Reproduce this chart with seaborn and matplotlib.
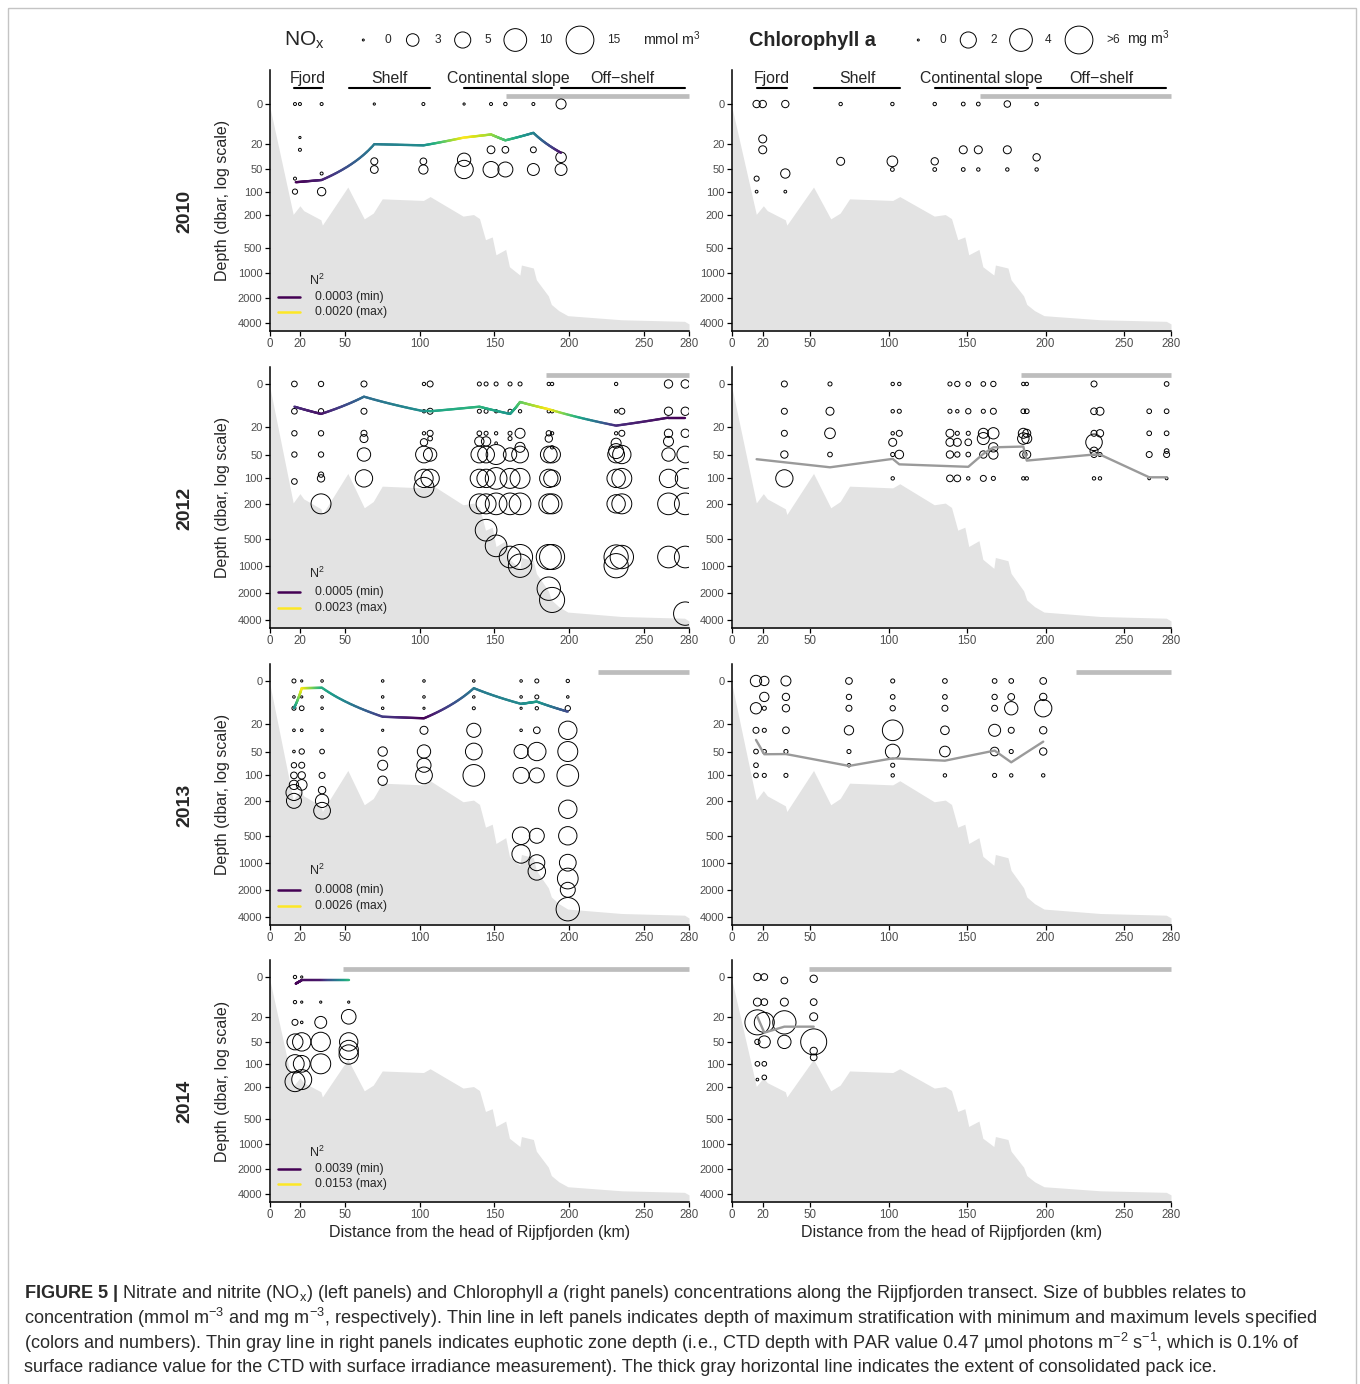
import numpy as np
import pandas as pd
import matplotlib
matplotlib.use("Agg")
import matplotlib.pyplot as plt
import seaborn as sns
from matplotlib.collections import LineCollection
from matplotlib.patches import Rectangle

# ------------------------------------------------------------------ data
distance_ticks = [0, 20, 50, 100, 150, 200, 250, 280]
depth_ticks = [0, 20, 50, 100, 200, 500, 1000, 2000, 4000]
years = ["2010", "2012", "2013", "2014"]

bathy_km = [0, 15.5, 20, 22.5, 34, 35, 52, 63, 69, 75, 102.5, 107, 129, 136, 140,
            144, 148.5, 151, 157.5, 160, 167, 168, 176, 178, 186, 188, 193, 199,
            235, 277, 280]
bathy_dep = [1, 195, 152, 175, 228, 265, 87, 222, 188, 124, 130, 116, 205, 196, 220,
             400, 370, 610, 525, 850, 1070, 810, 880, 1220, 1900, 2400, 2850, 3270,
             3660, 3820, 4100]

region_names = ["Fjord", "Shelf", "Continental slope", "Off\u2212shelf"]
region_start = [16, 52.5, 129.5, 194.5]
region_end = [35, 107, 188.5, 277]

ice_start = [158, 184.5, 219.5, 49]
ice_end = [280, 280, 280, 280]

# --- NOx bubbles (station distance, depths per station, mmol m-3 per depth)
nox10_stn = [16.7, 20, 34.5, 69.7, 102.5, 129.7, 147.7, 157.3, 176, 194.5]
nox10_dep = [[0, 67, 100], [0, 15, 25], [0, 57, 100], [0, 38, 50], [0, 38, 50],
             [0, 36, 50], [0, 25, 50], [0, 25, 50], [0, 25, 50], [0, 33, 50]]
nox10_val = [[0.1, 0.1, 0.45], [0.1, 0.02, 0.1], [0.1, 0.1, 1.3], [0.02, 0.9, 1.1],
             [0.1, 0.8, 1.6], [0.02, 3.4, 6.5], [0.1, 1.1, 4.9], [0.15, 0.8, 4.3],
             [0.1, 0.6, 2.7], [1.9, 2.1, 2.7]]

nox12_stn = [16.3, 34.1, 62.8, 102.9, 107.0, 139.9, 144.4, 151.1, 160.4, 167.1,
             186.3, 188.5, 231.3, 235.1, 266.3, 277.5]
nox12_dep = [[0, 10, 25, 50, 109],
             [0, 10, 25, 50, 90, 100, 200],
             [0, 10, 25, 30, 50, 100],
             [0, 10, 25, 34, 50, 100, 128],
             [0, 10, 25, 30, 50, 100],
             [0, 10, 25, 33, 50, 100, 200],
             [0, 10, 25, 33, 50, 100, 200, 400],
             [0, 10, 25, 35, 50, 100, 200, 600],
             [0, 10, 25, 30, 50, 100, 200, 800],
             [0, 10, 25, 40, 50, 100, 200, 800, 1000],
             [0, 10, 25, 30, 50, 100, 200, 800, 1800],
             [0, 10, 25, 40, 50, 100, 200, 800, 2400],
             [0, 10, 25, 35, 45, 50, 100, 200, 800, 1000],
             [10, 25, 50, 100, 200, 800],
             [0, 10, 25, 33, 50, 100, 200, 800],
             [0, 10, 25, 50, 100, 200, 800, 3400]]
nox12_val = [[0.55, 0.55, 0.48, 0.48, 0.55],
             [0.48, 0.48, 0.48, 0.48, 0.48, 0.98, 7.7],
             [0.63, 0.63, 0.63, 1.18, 3.4, 5.8],
             [0.14, 0.14, 0.14, 0.98, 5.4, 6.5, 7.7],
             [0.63, 0.63, 0.63, 0.35, 3.4, 6.5],
             [0.24, 0.24, 0.35, 1.63, 5.4, 6.5, 7.7],
             [0.24, 0.24, 0.24, 1.63, 5.4, 6.5, 7.7, 9.1],
             [0.24, 0.14, 0.14, 0.06, 7.7, 9.1, 9.1, 9.1],
             [0.24, 0.24, 0.24, 0.24, 3.4, 7.7, 9.1, 9.1],
             [0.24, 0.14, 1.88, 1.88, 5.4, 7.7, 9.1, 12.2, 10.6],
             [0.14, 0.14, 0.48, 0.98, 5.4, 6.5, 7.7, 12.2, 10.6],
             [0.14, 0.14, 0.14, 0.14, 5.4, 5.4, 7.7, 12.2, 12.2],
             [0.14, 0.14, 0.14, 1.88, 4.3, 5.4, 6.5, 6.5, 11.4, 11.4],
             [0.63, 0.63, 6.5, 7.7, 7.7, 10.6],
             [1.28, 1.28, 1.28, 1.88, 3.4, 6.5, 9.1, 9.1],
             [1.28, 1.28, 1.28, 5.4, 7.7, 9.1, 9.1, 10.6]]

nox13_stn = [16, 21.2, 34.8, 75.3, 102.9, 136.2, 167.8, 178.3, 199]
nox13_dep = [[0, 5, 10, 25, 50, 75, 100, 130, 160, 200],
             [0, 5, 10, 25, 50, 75, 100, 130],
             [0, 5, 10, 25, 50, 100, 150, 200, 260],
             [0, 5, 10, 25, 50, 75, 116],
             [0, 5, 10, 25, 50, 75, 100],
             [0, 5, 10, 25, 50, 100],
             [0, 5, 10, 25, 50, 100, 500, 800],
             [0, 5, 10, 25, 50, 100, 500, 1000, 1250],
             [0, 5, 10, 25, 50, 100, 250, 500, 1000, 1500, 2000, 3280]]
nox13_val = [[0.24, 0.05, 0.24, 0.06, 0.06, 0.48, 0.79, 1.63, 4.9, 4.3],
             [0.02, 0.02, 0.35, 0.06, 0.48, 0.63, 0.98, 2.15],
             [0.05, 0.05, 0.05, 0.05, 0.35, 0.63, 1.0, 3.4, 5.4],
             [0.05, 0.05, 0.05, 0.02, 1.63, 1.88, 1.63],
             [0.05, 0.05, 0.02, 1.18, 3.4, 3.8, 5.4],
             [0.05, 0.05, 0.1, 3.8, 5.4, 9.1],
             [0.05, 0.05, 0.02, 0.05, 3.8, 4.9, 5.9, 6.5],
             [0.24, 0.24, 0.14, 0.79, 6.5, 4.3, 4.3, 4.9, 5.9],
             [0.14, 0.05, 0.48, 6.5, 7.7, 9.1, 6.5, 6.5, 5.4, 8.3, 4.3, 10.6]]

nox14_stn = [16.7, 21.2, 33.9, 52.6]
nox14_dep = [[0, 10, 25, 50, 100, 170], [0, 10, 25, 50, 100, 160],
             [10, 25, 50, 100], [10, 20, 50, 65, 75]]
nox14_val = [[0.14, 0.14, 0.63, 4.9, 6.5, 7.7], [0.02, 0.02, 0.05, 6.5, 5.4, 7.7],
             [0.02, 2.7, 7.2, 7.7], [0.02, 4.1, 6.5, 7.2, 7.2]]

# --- Chlorophyll a bubbles (mg m-3)
chl10_stn = [15.7, 19.6, 34, 69.3, 102.3, 129.3, 147.5, 157.1, 175.6, 194.3]
chl10_dep = [[0, 67, 100], [0, 16, 25], [0, 57, 100], [0, 38], [0, 38, 50],
             [0, 38, 50], [0, 25, 50], [0, 25, 50], [0, 25, 50], [0, 33, 50]]
chl10_val = [[0.39, 0.17, 0.03], [0.39, 0.47, 0.47], [0.39, 0.65, 0.03], [0.06, 0.47],
             [0.06, 0.86, 0.08], [0.06, 0.39, 0.08], [0.08, 0.47, 0.08],
             [0.08, 0.47, 0.06], [0.3, 0.47, 0.06], [0.06, 0.39, 0.06]]

chl12_stn = [33.4, 62.5, 102.5, 106.7, 139, 143.7, 150.7, 160.3, 166.7, 185.8, 188,
             230.9, 234.7, 266.1, 277.2]
chl12_dep = [[0, 10, 25, 50, 100], [0, 10, 25, 50], [0, 10, 25, 34, 50, 100],
             [0, 10, 25, 50], [0, 10, 25, 34, 50, 100], [0, 10, 25, 34, 50, 100],
             [0, 10, 25, 34, 50, 100], [0, 10, 25, 30, 50, 100],
             [0, 10, 25, 40, 50, 100], [0, 10, 25, 30, 50, 100],
             [0, 10, 25, 30, 50, 100], [0, 10, 25, 34, 45, 50, 100],
             [10, 25, 50, 100], [10, 25, 50, 100], [0, 10, 25, 45, 50, 100]]
chl12_val = [[0.25, 0.25, 0.25, 0.39, 2.3], [0.1, 0.47, 0.86, 0.14],
             [0.06, 0.06, 0.06, 0.47, 0.1, 0.06], [0.06, 0.1, 0.25, 0.55],
             [0.1, 0.1, 0.47, 0.47, 0.39, 0.32], [0.19, 0.06, 0.1, 0.47, 0.19, 0.32],
             [0.14, 0.19, 0.1, 0.32, 0.14, 0.06], [0.14, 0.1, 0.75, 1.1, 0.39, 0.25],
             [0.19, 0.25, 0.97, 0.65, 0.65, 0.1], [0.06, 0.14, 0.75, 1.0, 0.39, 0.06],
             [0.06, 0.14, 0.47, 0.75, 0.47, 0.06],
             [0.25, 0.32, 0.25, 2.1, 0.47, 0.25, 0.06],
             [0.47, 0.39, 0.1, 0.06], [0.14, 0.14, 0.25, 0.03],
             [0.14, 0.14, 0.14, 0.14, 0.25, 0.03]]

chl13_stn = [15.3, 20.6, 34.4, 74.6, 102.5, 135.8, 167.5, 178.1, 198.5]
chl13_dep = [[0, 10, 25, 50, 75, 100], [0, 5, 10, 25, 50, 100], [0, 5, 10, 25, 50, 100],
             [0, 5, 10, 25, 50, 75], [0, 5, 10, 25, 50, 75, 100], [0, 5, 10, 25, 50, 100],
             [0, 5, 10, 25, 50, 100], [0, 5, 10, 25, 50, 100], [0, 5, 10, 25, 50, 100]]
chl13_val = [[0.97, 0.97, 0.25, 0.14, 0.14, 0.14], [0.65, 0.65, 0.1, 0.1, 0.1, 0.1],
             [0.75, 0.39, 0.39, 0.32, 0.1, 0.1], [0.32, 0.19, 0.25, 0.65, 0.1, 0.06],
             [0.1, 0.14, 0.19, 3.3, 1.65, 0.1, 0.06], [0.14, 0.14, 0.25, 0.55, 0.86, 0.06],
             [0.14, 0.19, 0.25, 1.1, 0.55, 0.1], [0.14, 0.32, 1.36, 0.25, 0.1, 0.06],
             [0.32, 0.39, 2.3, 0.39, 0.39, 0.06]]

chl14_stn = [16.2, 20.6, 33.4, 52.1]
chl14_dep = [[0, 10, 25, 50, 100, 160], [0, 10, 25, 50, 100, 150], [1, 10, 25, 50],
             [0.5, 10, 20, 50, 67, 82]]
chl14_val = [[0.39, 0.47, 4.86, 0.19, 0.14, 0.026], [0.32, 0.32, 3.1, 1.1, 0.14, 0.14],
             [0.32, 0.47, 4.2, 1.36], [0.39, 0.32, 0.47, 5.25, 0.39, 0.32]]

# --- depth of maximum stratification (N2) lines
n2_10_km = [17.2, 34.5, 69.7, 102.5, 129.7, 147.7, 157.3, 176, 194.5]
n2_10_dep = [75, 70, 20, 21, 15, 13, 17, 12, 28]
n2_10_val = [0.0003, 0.00044, 0.00101, 0.00112, 0.0020, 0.00175, 0.00149, 0.00107, 0.00039]

n2_12_km = [16.3, 34.1, 62.8, 102.9, 107.0, 139.9, 160.4, 167.1, 186.3, 231.3, 266.3, 277.5]
n2_12_dep = [7.8, 11.4, 3.8, 10, 10, 7.8, 11.4, 5.8, 9, 18.8, 13.5, 13.5]
n2_12_val = [0.00072, 0.00059, 0.00113, 0.0014, 0.00154, 0.00167, 0.00144, 0.00185,
             0.0023, 0.00072, 0.00055, 0.0005]

n2_13_km = [16, 21.2, 34.8, 75.3, 102.9, 136.2, 167.8, 178.3, 199]
n2_13_dep = [10, 2, 1.9, 14.8, 15.8, 2, 7.9, 6.9, 11.8]
n2_13_val = [0.00165, 0.0026, 0.00192, 0.00112, 0.0008, 0.00152, 0.00165, 0.00179, 0.0012]

n2_14_km = [17.2, 21.2, 33.9, 52.6]
n2_14_dep = [2.0, 0.9, 0.9, 0.9]
n2_14_val = [0.0039, 0.00424, 0.00458, 0.01131]

n2_min = [0.0003, 0.0005, 0.0008, 0.0039]
n2_max = [0.0020, 0.0023, 0.0026, 0.0153]

# --- euphotic zone depth lines
eu12_km = [15.7, 62.5, 102.5, 106.7, 150.7, 160.3, 166.7, 185.8, 188, 230.9, 234.7, 266.1, 277.2]
eu12_dep = [57.6, 73, 57, 67, 72, 49, 40, 39, 60, 50, 50, 97, 97]
eu13_km = [15.3, 20.6, 34.4, 74.6, 102.5, 135.8, 167.5, 178.1, 198.5]
eu13_dep = [34.7, 54.3, 54, 76.5, 61.3, 65.7, 48.6, 68.9, 36.7]
eu14_km = [16.2, 20.6, 33.4, 52.1]
eu14_dep = [20, 36.5, 29.4, 29.4]

nox_legend_vals = [0, 3, 5, 10, 15]
nox_legend_text = ["0", "3", "5", "10", "15"]
chl_legend_vals = [0, 2, 4, 6]
chl_legend_text = ["0", "2", "4", ">6"]

# ------------------------------------------------------------------ style
sns.set_theme(style="ticks")
plt.rcParams["font.family"] = ["Liberation Sans", "DejaVu Sans"]
plt.rcParams["mathtext.fontset"] = "custom"
plt.rcParams["mathtext.rm"] = "Liberation Sans"
plt.rcParams["mathtext.it"] = "Liberation Sans:italic"
plt.rcParams["mathtext.bf"] = "Liberation Sans:bold"

W, H = 1360, 1384
fig = plt.figure(figsize=(W / 100, H / 100), dpi=100)

NOX_SIZES, NOX_NORM = (2, 400), (0, 15)
CHL_SIZES, CHL_NORM = (2, 400), (0, 6)


def size_of(v, sizes, norm):
    return sizes[0] + (sizes[1] - sizes[0]) * (v - norm[0]) / (norm[1] - norm[0])


def fwd(d):
    d = np.asarray(d, dtype=float)
    return np.log10(np.clip(d + 10.0, 1e-6, None))


def inv(f):
    return 10.0 ** np.asarray(f, dtype=float) - 10.0


def px_axes(x0, x1, y0, y1):
    return fig.add_axes([x0 / W, 1 - y1 / H, (x1 - x0) / W, (y1 - y0) / H])


def to_frame(stations, depths, values):
    rows = []
    for s, ds, vs in zip(stations, depths, values):
        for d, v in zip(ds, vs):
            rows.append((s, d, v))
    return pd.DataFrame(rows, columns=["km", "depth", "value"])


def gradient_line(ax, km, dep, val, vmin, vmax, n=40):
    xs, ys, cs = [], [], []
    for i in range(len(km) - 1):
        t = np.linspace(0, 1, n, endpoint=False)
        xs.append(km[i] + t * (km[i + 1] - km[i]))
        ys.append(dep[i] + t * (dep[i + 1] - dep[i]))
        cs.append(val[i] + t * (val[i + 1] - val[i]))
    xs.append([km[-1]]); ys.append([dep[-1]]); cs.append([val[-1]])
    x, y, c = np.concatenate(xs), np.concatenate(ys), np.concatenate(cs)
    pts = np.column_stack([x, y])
    segs = np.stack([pts[:-1], pts[1:]], axis=1)
    lc = LineCollection(segs, cmap="viridis", norm=plt.Normalize(vmin, vmax),
                        linewidth=1.7, capstyle="round", zorder=5)
    lc.set_array((c[:-1] + c[1:]) / 2)
    ax.add_collection(lc)


def style(ax, ylim):
    ax.set_yscale("function", functions=(fwd, inv))
    ax.set_xlim(0, 280)
    ax.set_ylim(*ylim)
    ax.set_xticks(distance_ticks)
    ax.set_xticklabels([str(t) for t in distance_ticks])
    ax.set_yticks(depth_ticks)
    ax.set_yticklabels([str(t) for t in depth_ticks])
    ax.minorticks_off()
    for s in ["top", "right"]:
        ax.spines[s].set_visible(False)
    for s in ["left", "bottom"]:
        ax.spines[s].set_linewidth(1.1)
        ax.spines[s].set_color("black")
        ax.spines[s].set_zorder(6)
    ax.tick_params(axis="both", length=3.5, width=0.9, color="black", labelcolor="#4d4d4d")
    ax.tick_params(axis="x", labelsize=8.3, pad=1.5)
    ax.tick_params(axis="y", labelsize=8.0, pad=2)
    ax.set_xlabel("")
    ax.set_ylabel("")
    ax.set_facecolor("none")


col_x = [(270, 689), (732, 1171)]
row_y = [(70, 331), (367, 628), (664, 925), (960, 1202)]
row_ylim = [(4980, -6.06), (4904, -3.5), (4904, -3.5), (4990, -3.75)]

nox_sets = [(nox10_stn, nox10_dep, nox10_val), (nox12_stn, nox12_dep, nox12_val),
            (nox13_stn, nox13_dep, nox13_val), (nox14_stn, nox14_dep, nox14_val)]
chl_sets = [(chl10_stn, chl10_dep, chl10_val), (chl12_stn, chl12_dep, chl12_val),
            (chl13_stn, chl13_dep, chl13_val), (chl14_stn, chl14_dep, chl14_val)]
n2_sets = [(n2_10_km, n2_10_dep, n2_10_val), (n2_12_km, n2_12_dep, n2_12_val),
           (n2_13_km, n2_13_dep, n2_13_val), (n2_14_km, n2_14_dep, n2_14_val)]
eu_sets = [None, (eu12_km, eu12_dep), (eu13_km, eu13_dep), (eu14_km, eu14_dep)]

for r in range(4):
    y0, y1 = row_y[r]
    for c in range(2):
        x0, x1 = col_x[c]
        ax = px_axes(x0, x1, y0, y1)
        ax.fill_between(bathy_km, bathy_dep, 8000, color="#e3e3e3", lw=0, zorder=1)
        ax.plot([ice_start[r], ice_end[r]], [-2, -2], color="#bdbdbd", lw=3.4,
                solid_capstyle="butt", clip_on=False, zorder=2)
        if r == 0:
            for name, a, b in zip(region_names, region_start, region_end):
                ax.plot([a, b], [-3.6, -3.6], color="black", lw=1.5, clip_on=False, zorder=2)
                ax.text((a + b) / 2, -5.0, name, ha="center", va="center",
                        fontsize=11.4, clip_on=False)
        if c == 0:
            df = to_frame(*nox_sets[r])
            sns.scatterplot(data=df, x="km", y="depth", size="value", sizes=NOX_SIZES,
                            size_norm=NOX_NORM, facecolor="none", edgecolor="black",
                            linewidth=0.7, legend=False, ax=ax, zorder=3)
            gradient_line(ax, *n2_sets[r], n2_min[r], n2_max[r])
        else:
            df = to_frame(*chl_sets[r])
            sns.scatterplot(data=df, x="km", y="depth", size="value", sizes=CHL_SIZES,
                            size_norm=CHL_NORM, facecolor="none", edgecolor="black",
                            linewidth=0.7, legend=False, ax=ax, zorder=3)
            if eu_sets[r] is not None:
                sns.lineplot(x=eu_sets[r][0], y=eu_sets[r][1], sort=False, estimator=None,
                             color="#9a9a9a", linewidth=1.7, ax=ax, zorder=4)
        style(ax, row_ylim[r])

# ------------------------------------------------------------------ overlay text
ov = fig.add_axes([0, 0, 1, 1], zorder=10)
ov.set_xlim(0, W)
ov.set_ylim(H, 0)
ov.axis("off")
ov.patch.set_alpha(0)

ov.add_patch(Rectangle((8, 8), 1348, 1400, fill=False, edgecolor="#c4c4c4", lw=1.0))

# top legends
ov.text(284, 40, r"NO$_\mathrm{x}$", fontsize=15, ha="left", va="center")
nox_leg_x = [363.3, 412.7, 462.7, 515.3, 580]
nox_lab_x = [387.7, 437.7, 487.7, 546, 614]
ov.scatter(nox_leg_x, [40] * 5, s=[size_of(v, NOX_SIZES, NOX_NORM) for v in nox_legend_vals],
           facecolors="none", edgecolors="black", linewidths=0.7)
for x, t in zip(nox_lab_x, nox_legend_text):
    ov.text(x, 40, t, fontsize=8.6, ha="center", va="center")
ov.text(643, 39, r"mmol m$^{3}$", fontsize=10.3, ha="left", va="center")

ov.text(749, 40, "Chlorophyll a", fontsize=14.3, weight="bold", ha="left", va="center")
chl_leg_x = [918.3, 968.3, 1021, 1079]
chl_lab_x = [942.7, 993.3, 1048.3, 1112.7]
ov.scatter(chl_leg_x, [40] * 4, s=[size_of(v, CHL_SIZES, CHL_NORM) for v in chl_legend_vals],
           facecolors="none", edgecolors="black", linewidths=0.7)
for x, t in zip(chl_lab_x, chl_legend_text):
    ov.text(x, 40, t, fontsize=8.6, ha="center", va="center")
ov.text(1127, 39, r"mg m$^{3}$", fontsize=10.3, ha="left", va="center")

# N2 legends, year labels, axis titles
n2_leg_y = [(280, 297.3, 312.3), (573.3, 592.3, 608.3), (870, 890, 906), (1152.3, 1169, 1184.3)]
vir = plt.get_cmap("viridis")
for r in range(4):
    yt, ya, yb = n2_leg_y[r]
    ov.text(309, yt, r"N$^2$", fontsize=9, ha="left", va="center")
    ov.plot([278, 300], [ya, ya], color=vir(0.0), lw=1.8)
    ov.plot([278, 300], [yb, yb], color=vir(1.0), lw=1.8)
    ov.text(315, ya, f"{n2_min[r]:.4f} (min)", fontsize=8.7, ha="left", va="center")
    ov.text(315, yb, f"{n2_max[r]:.4f} (max)", fontsize=8.7, ha="left", va="center")

year_y = [211.7, 508, 805, 1101]
for r in range(4):
    y0, y1 = row_y[r]
    ov.text(185, year_y[r], years[r], rotation=90, fontsize=14, weight="bold",
            ha="center", va="center")
    ov.text(222, (y0 + y1) / 2, "Depth (dbar, log scale)", rotation=90, fontsize=11.5,
            ha="center", va="center")

for (x0, x1) in col_x:
    ov.text((x0 + x1) / 2, 1233, "Distance from the head of Rijpfjorden (km)",
            fontsize=11.5, ha="center", va="center")

# caption
cap_lines = [
    r"$\mathbf{FIGURE\ 5\ |}$ Nitrate and nitrite (NO$_\mathrm{x}$) (left panels) and Chlorophyll $\mathit{a}$ (right panels) concentrations along the Rijpfjorden transect. Size of bubbles relates to",
    r"concentration (mmol m$^{-3}$ and mg m$^{-3}$, respectively). Thin line in left panels indicates depth of maximum stratification with minimum and maximum levels specified",
    r"(colors and numbers). Thin gray line in right panels indicates euphotic zone depth (i.e., CTD depth with PAR value 0.47 µmol photons m$^{-2}$ s$^{-1}$, which is 0.1% of",
    "surface radiance value for the CTD with surface irradiance measurement). The thick gray horizontal line indicates the extent of consolidated pack ice.",
]
cap_y = [1293, 1318, 1343, 1368]
for t, y in zip(cap_lines, cap_y):
    ov.text(24, y, t, fontsize=13.1, ha="left", va="center", color="#2a2a2a")

fig.savefig("out.png", dpi=100)
